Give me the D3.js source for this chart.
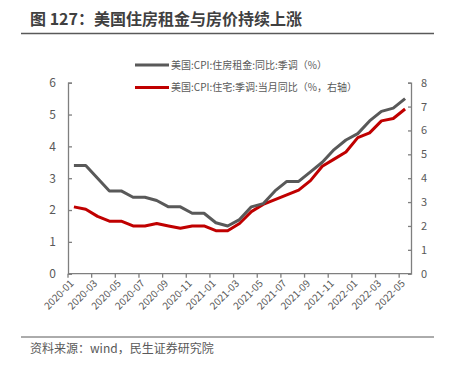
<!DOCTYPE html>
<html>
<head>
<meta charset="utf-8">
<script src="https://cdn.jsdelivr.net/npm/d3@7"></script>
<style>
  body { margin: 0; background: #fff; }
  text { font-family: "Noto Sans CJK SC", "DejaVu Sans", sans-serif; }
</style>
</head>
<body>
<svg id="chart"></svg>
<script>
const WIDTH = 455;
const HEIGHT = 365;

const months = [
	"2020-01", "2020-02", "2020-03", "2020-04", "2020-05", "2020-06", "2020-07", "2020-08", "2020-09", "2020-10", "2020-11", "2020-12",
	"2021-01", "2021-02", "2021-03", "2021-04", "2021-05", "2021-06", "2021-07", "2021-08", "2021-09", "2021-10", "2021-11", "2021-12",
	"2022-01", "2022-02", "2022-03", "2022-04", "2022-05",
];
// 美国:CPI:住房租金:同比:季调 (left axis)
const rentYoY = [3.4, 3.4, 3.0, 2.6, 2.6, 2.4, 2.4, 2.3, 2.1, 2.1, 1.9, 1.9, 1.6, 1.5, 1.7, 2.1, 2.2, 2.6, 2.9, 2.9, 3.2, 3.5, 3.9, 4.2, 4.4, 4.8, 5.1, 5.2, 5.5];
// 美国:CPI:住宅:季调:当月同比 (right axis)
const shelterYoY = [2.8, 2.7, 2.4, 2.2, 2.2, 2.0, 2.0, 2.1, 2.0, 1.9, 2.0, 2.0, 1.8, 1.8, 2.1, 2.6, 2.9, 3.1, 3.3, 3.5, 3.9, 4.5, 4.8, 5.1, 5.7, 5.9, 6.4, 6.5, 6.9];

const leftTicks = [0, 1, 2, 3, 4, 5, 6];
const rightTicks = [0, 1, 2, 3, 4, 5, 6, 7, 8];
const legendLabels = ["美国:CPI:住房租金:同比:季调（%）", "美国:CPI:住宅:季调:当月同比（%，右轴）"];
const TITLE = "图 127：美国住房租金与房价持续上涨";
const SOURCE = "资料来源：wind，民生证券研究院";

const GRAY = "#595959";
const RED = "#c00000";
const AXIS = "#7f7f7f";
const TEXT = "#595959";

const svg = d3.select("#chart").attr("width", WIDTH).attr("height", HEIGHT);

const X0 = 68;
const X1 = 411;
const Y0 = 273.7;
const Y1 = 82.7;

const xScale = d3.scaleBand(months, [X0, X1]);
const yLeft = d3.scaleLinear([0, 6], [Y0, Y1]);
const yRight = d3.scaleLinear([0, 8], [Y0, Y1]);

// title + rules
svg.append("text")
	.attr("x", 30).attr("y", 25)
	.attr("font-size", 16).attr("font-weight", "bold")
	.attr("fill", "#404040")
	.text(TITLE);
svg.append("line").attr("x1", 21).attr("x2", 434).attr("y1", 33.5).attr("y2", 33.5)
	.attr("stroke", "#595959").attr("stroke-width", 1.5);
svg.append("line").attr("x1", 21).attr("x2", 434).attr("y1", 337).attr("y2", 337)
	.attr("stroke", "#595959").attr("stroke-width", 1);
svg.append("text")
	.attr("x", 30).attr("y", 353)
	.attr("font-size", 12).attr("fill", TEXT)
	.text(SOURCE);

// left axis
const gLeft = svg.append("g").attr("transform", `translate(${X0},0)`)
	.call(d3.axisLeft(yLeft).tickValues(leftTicks).tickFormat(d3.format("d")).tickSize(-4).tickPadding(12));
gLeft.select(".domain").attr("stroke", AXIS).attr("stroke-width", 1.3);
gLeft.selectAll(".tick line").attr("stroke", AXIS).attr("stroke-width", 1.3);
gLeft.selectAll(".tick text").attr("fill", TEXT).attr("font-size", 12).attr("font-family", "DejaVu Sans");

// right axis
const gRight = svg.append("g").attr("transform", `translate(${X1},0)`)
	.call(d3.axisRight(yRight).tickValues(rightTicks).tickFormat(d3.format("d")).tickSize(-3).tickPadding(10));
gRight.select(".domain").attr("stroke", AXIS).attr("stroke-width", 1.3);
gRight.selectAll(".tick line").attr("stroke", AXIS).attr("stroke-width", 1.3);
gRight.selectAll(".tick text").attr("fill", TEXT).attr("font-size", 11).attr("font-family", "DejaVu Sans");

// bottom axis: ticks at category boundaries, every 2 months
const gBottom = svg.append("g");
gBottom.append("line").attr("x1", X0).attr("x2", X1).attr("y1", Y0).attr("y2", Y0)
	.attr("stroke", AXIS).attr("stroke-width", 1.3);
const labelled = months.filter((m, i) => i % 2 === 0);
gBottom.selectAll(".xtick")
	.data(labelled)
	.join("line")
	.attr("x1", d => xScale(d)).attr("x2", d => xScale(d))
	.attr("y1", Y0).attr("y2", Y0 + 4)
	.attr("stroke", AXIS).attr("stroke-width", 1.3);
gBottom.selectAll(".xlabel")
	.data(labelled)
	.join("text")
	.attr("transform", d => `translate(${xScale(d) + xScale.bandwidth() / 2 - 2},${Y0 + 8}) rotate(-45)`)
	.attr("text-anchor", "end")
	.attr("dy", "0.35em")
	.attr("font-size", 10)
	.attr("font-family", "DejaVu Sans")
	.attr("fill", TEXT)
	.text(d => d);

// lines
const cx = d => xScale(d) + xScale.bandwidth() / 2;
const lineLeft = d3.line().x((d, i) => cx(months[i])).y(d => yLeft(d));
const lineRight = d3.line().x((d, i) => cx(months[i])).y(d => yRight(d));

svg.append("path").datum(shelterYoY)
	.attr("d", lineRight)
	.attr("fill", "none").attr("stroke", RED).attr("stroke-width", 3)
	.attr("stroke-linejoin", "round");
svg.append("path").datum(rentYoY)
	.attr("d", lineLeft)
	.attr("fill", "none").attr("stroke", GRAY).attr("stroke-width", 3)
	.attr("stroke-linejoin", "round");

// legend
const legend = svg.append("g");
[GRAY, RED].forEach((c, i) => {
	const y = 65 + i * 22.5;
	legend.append("line").attr("x1", 135).attr("x2", 169).attr("y1", y).attr("y2", y)
		.attr("stroke", c).attr("stroke-width", 3);
	legend.append("text").attr("x", 171).attr("y", y).attr("dy", "0.35em")
		.attr("font-size", 10).attr("fill", TEXT)
		.text(legendLabels[i]);
});
</script>
</body>
</html>
